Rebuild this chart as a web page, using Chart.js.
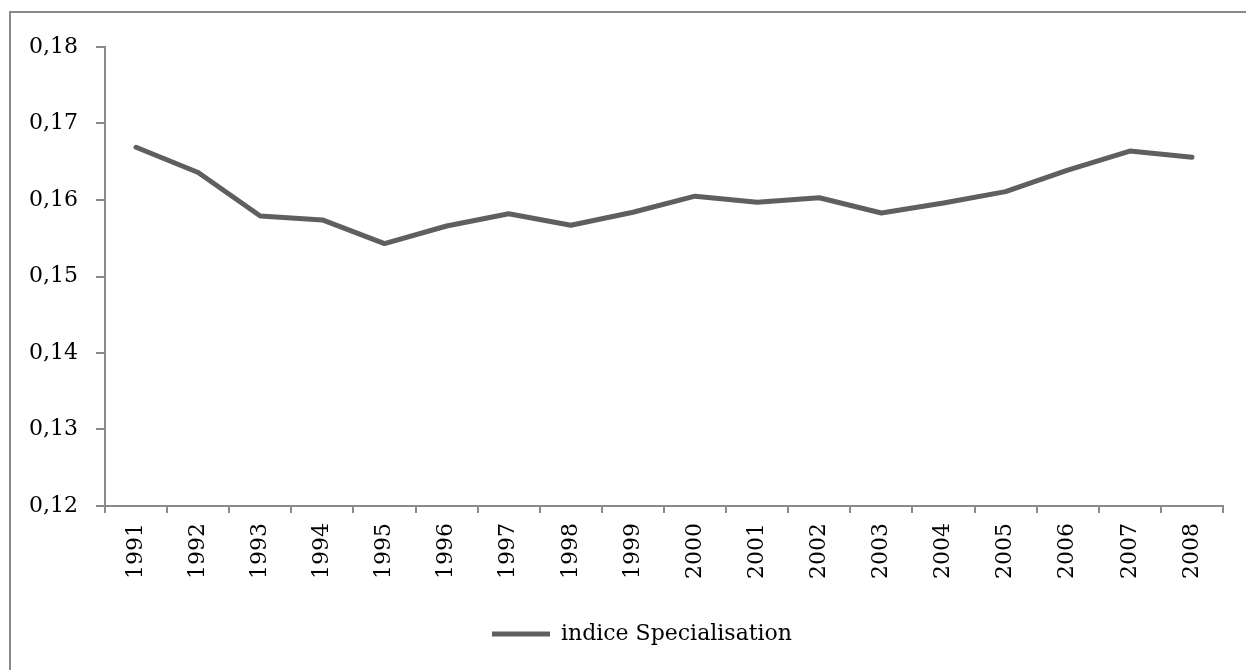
<!DOCTYPE html>
<html>
<head>
<meta charset="utf-8">
<script src="https://cdn.jsdelivr.net/npm/chart.js@4/dist/chart.umd.min.js"></script>
<style>
  html, body { margin: 0; padding: 0; background: #fff; overflow: hidden; }
  #wrap { position: relative; width: 1246px; height: 670px; }
  #frame {
    position: absolute; left: 9px; top: 11px; width: 1400px; height: 800px;
    border-left: 2px solid #8a8a8a; border-top: 2px solid #8a8a8a;
  }
  #chart { position: absolute; left: 0; top: 0; }
</style>
</head>
<body>
<div id="wrap">
  <div id="frame"></div>
  <canvas id="chart" width="1246" height="670"></canvas>
</div>
<script>
// données
const years = ['1991', '1992', '1993', '1994', '1995', '1996', '1997', '1998', '1999',
               '2000', '2001', '2002', '2003', '2004', '2005', '2006', '2007', '2008'];
const indiceSpecialisation = [0.1669, 0.1636, 0.1579, 0.1574, 0.1543, 0.1566, 0.1582, 0.1567, 0.1584,
                              0.1605, 0.1597, 0.1603, 0.1583, 0.1596, 0.1611, 0.1639, 0.1664, 0.1656];
const yMin = 0.12;
const yMax = 0.18;
const yStep = 0.01;
const seriesLabel = 'indice Specialisation';

const axisGray  = '#8a8a8a';
const lineGray  = '#5f5f5f';
const fontFam   = '"DejaVu Serif", "Liberation Serif", serif';
const font      = { family: fontFam, size: 22 };

// légende décalée un peu vers la droite, comme dans l'original
const legendShift = {
  id: 'legendShift',
  afterLayout(chart) {
    if (chart.legend) chart.legend.left = 61;
  }
};

// zone de tracé : x 105..1223, y 47..506
new Chart(document.getElementById('chart'), {
  type: 'line',
  data: {
    labels: years,
    datasets: [{
      label: seriesLabel,
      data: indiceSpecialisation,
      borderColor: lineGray,
      backgroundColor: lineGray,
      borderWidth: 5,
      borderCapStyle: 'round',
      borderJoinStyle: 'round',
      pointRadius: 0,
      tension: 0
    }]
  },
  options: {
    responsive: false,
    animation: false,
    devicePixelRatio: 1,
    layout: { padding: { left: 0, right: 23, top: 47, bottom: 15 } },
    plugins: {
      tooltip: { enabled: false },
      legend: {
        position: 'bottom',
        labels: {
          usePointStyle: true,
          pointStyle: 'line',
          pointStyleWidth: 58,
          color: '#000',
          font: font,
          padding: 10
        }
      }
    },
    scales: {
      x: {
        type: 'category',
        offset: true,
        afterFit: (s) => { s.height = 107; },
        border: { color: axisGray, width: 2 },
        grid: { offset: true, drawOnChartArea: false, tickLength: 7, color: axisGray, lineWidth: 2 },
        ticks: { color: '#000', font: font, minRotation: 90, maxRotation: 90, autoSkip: false, padding: 10 }
      },
      y: {
        min: yMin,
        max: yMax,
        afterFit: (s) => { s.width = 105; },
        border: { color: axisGray, width: 2 },
        grid: { drawOnChartArea: false, tickLength: 9, color: axisGray, lineWidth: 2 },
        ticks: {
          stepSize: yStep,
          color: '#000',
          font: font,
          padding: 18,
          callback: (v) => v.toFixed(2).replace('.', ',')
        }
      }
    }
  },
  plugins: [legendShift]
});
</script>
</body>
</html>
